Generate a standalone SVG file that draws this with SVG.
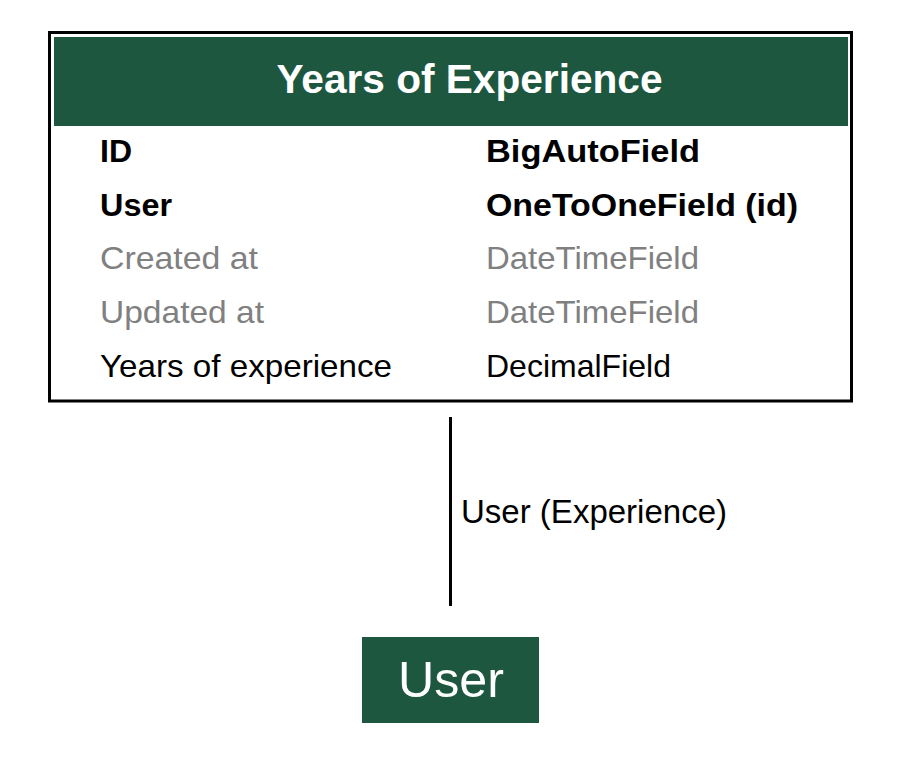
<svg xmlns="http://www.w3.org/2000/svg" width="901" height="772" viewBox="0 0 901 772">
<style>
text{font-family:"Liberation Sans",Arial,Helvetica,sans-serif}
.hdr{fill:#1d5740}
.b{font-weight:bold;fill:#000;font-size:32px}
.n{fill:#000;font-size:32px}
.g{fill:#808080;font-size:32px}
</style>
<rect width="901" height="772" fill="#fff"/>
<g id="years-of-experience">
<rect x="49.5" y="32.5" width="802" height="368.5" fill="#fff" stroke="#000" stroke-width="3"/>
<rect class="hdr" x="54" y="37" width="794" height="89"/>
<text x="276.5" y="92.7" font-size="41" font-weight="bold" fill="#fff" textLength="386" lengthAdjust="spacingAndGlyphs">Years of Experience</text>
<text class="b" x="100" y="162.3">ID</text>
<text class="b" x="100" y="215.7" textLength="72" lengthAdjust="spacingAndGlyphs">User</text>
<text class="g" x="100" y="269.3" textLength="158" lengthAdjust="spacingAndGlyphs">Created at</text>
<text class="g" x="100" y="323.3" textLength="164" lengthAdjust="spacingAndGlyphs">Updated at</text>
<text class="n" x="100" y="376.7" textLength="292" lengthAdjust="spacingAndGlyphs">Years of experience</text>
<text class="b" x="486" y="162.3" textLength="214" lengthAdjust="spacingAndGlyphs">BigAutoField</text>
<text class="b" x="486" y="215.7" textLength="312" lengthAdjust="spacingAndGlyphs">OneToOneField (id)</text>
<text class="g" x="486" y="269.3" textLength="213" lengthAdjust="spacingAndGlyphs">DateTimeField</text>
<text class="g" x="486" y="323.3" textLength="213" lengthAdjust="spacingAndGlyphs">DateTimeField</text>
<text class="n" x="486" y="376.7" textLength="185" lengthAdjust="spacingAndGlyphs">DecimalField</text>
</g>
<g id="connectors">
<line x1="450.5" y1="417" x2="450.5" y2="606" stroke="#000" stroke-width="3"/>
<text x="461" y="523.3" font-size="32.5" fill="#000" textLength="266" lengthAdjust="spacingAndGlyphs">User (Experience)</text>
</g>
<g id="user">
<rect class="hdr" x="362" y="637" width="177" height="86"/>
<text x="398" y="696.7" font-size="49.5" fill="#fff" textLength="106" lengthAdjust="spacingAndGlyphs">User</text>
</g>
</svg>
